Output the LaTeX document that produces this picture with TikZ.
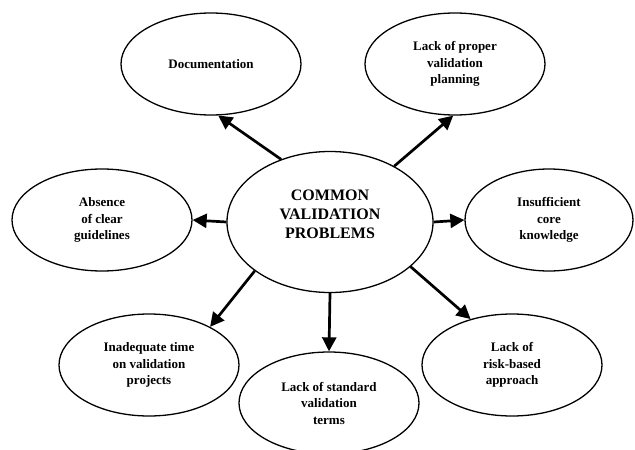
\documentclass[tikz,border=0pt]{standalone}
\usepackage{fontspec}
\setmainfont{Liberation Serif}
\usetikzlibrary{shapes.geometric,arrows.meta}
\begin{document}
\begin{tikzpicture}[x=1pt,y=1pt,
    bubble/.style={draw,ellipse,line width=1.3pt,inner sep=0pt,minimum width=180pt,minimum height=102pt,align=center,font=\fontsize{13}{16.5}\selectfont\bfseries},
    hub/.style={bubble,minimum width=206pt,minimum height=141pt,font=\fontsize{16}{19}\selectfont\bfseries},
    arr/.style={line width=2.7pt,-{Triangle[length=14pt,width=14pt]}}]
                \useasboundingbox (0,0) rectangle (635,-450);
                \node (central) [hub] at (330,-222) {COMMON\\VALIDATION\\PROBLEMS\rule[-16pt]{0pt}{16pt}};
                \node (doc) [bubble] at (211,-64) {Documentation};
                \node (plan) [bubble] at (455,-64) {Lack of proper\\validation\\planning};
                \node (guide) [bubble] at (102,-220) {Absence\\of clear\\guidelines};
                \node (core) [bubble,minimum width=168pt] at (549,-220) {Insufficient\\core\\knowledge};
                \node (time) [bubble] at (149,-365) {Inadequate time\\on validation\\projects};
                \node (terms) [bubble] at (329,-403) {Lack of standard\\validation\\terms};
                \node (risk) [bubble] at (512,-365) {Lack of\\risk-based\\approach};
                \draw [arr] (central.128) -- (doc.278);
                \draw [arr] (central.41) -- (plan.268);
                \draw [arr] (central.west) -- (guide.east);
                \draw [arr] (central.east) -- (core.west);
                \draw [arr] (central.213) -- (time.32);
                \draw [arr] (central.south) -- (terms.north);
                \draw [arr] (central.331) -- (risk.132);
            \end{tikzpicture}
\end{document}
